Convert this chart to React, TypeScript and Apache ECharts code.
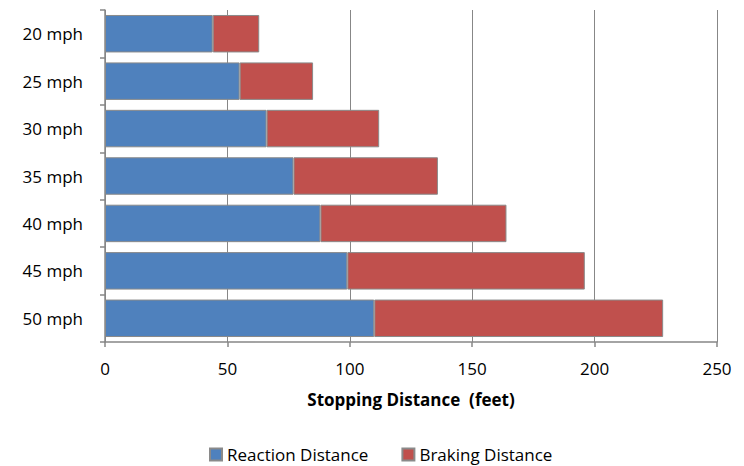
import React, { useEffect, useRef } from "react";
import * as echarts from "echarts";

const categories = ["20 mph", "25 mph", "30 mph", "35 mph", "40 mph", "45 mph", "50 mph"];
const reactionDistance = [44, 55, 66, 77, 88, 99, 110];
const brakingDistance = [19, 30, 46, 59, 76, 97, 118];
const xTicks = { min: 0, max: 250, interval: 50 };

const FONT = "'Open Sans', Lato, sans-serif";
const GRAY = "#878787";
const FS = 17;

export default function App() {
  const ref = useRef<HTMLDivElement>(null);
  useEffect(() => {
    document.body.style.margin = "0";
    if (!ref.current) return;
    const chart = echarts.init(ref.current, undefined, { renderer: "svg" });
    chart.setOption({
      animation: false,
      backgroundColor: "#ffffff",
      textStyle: { fontFamily: FONT },
      grid: { left: 105, right: 27, top: 10, bottom: 124, containLabel: false },
      legend: {
        left: 209,
        top: 446,
        padding: 0,
        itemWidth: 12,
        itemHeight: 12,
        itemGap: 33,
        icon: "rect",
        textStyle: { fontFamily: FONT, fontSize: FS, lineHeight: 17, color: "#000", padding: [0, 0, 0, 0] },
        data: ["Reaction Distance", "Braking Distance"],
      },
      xAxis: {
        type: "value",
        min: xTicks.min,
        max: xTicks.max,
        interval: xTicks.interval,
        name: "Stopping Distance  (feet)",
        nameLocation: "middle",
        nameGap: 49,
        nameTextStyle: { fontFamily: FONT, fontSize: FS, fontWeight: "bold", color: "#000" },
        axisLine: { show: true, lineStyle: { color: GRAY, width: 1.5 } },
        axisTick: { show: true, length: 5, lineStyle: { color: GRAY, width: 1.5 } },
        axisLabel: { fontFamily: FONT, fontSize: FS, color: "#000", margin: 18 },
        splitLine: { show: true, lineStyle: { color: GRAY, width: 1 } },
      },
      yAxis: {
        type: "category",
        inverse: true,
        data: categories,
        axisLine: { show: true, lineStyle: { color: GRAY, width: 1.5 } },
        axisTick: { show: true, length: 5, alignWithLabel: false, lineStyle: { color: GRAY, width: 1.5 } },
        axisLabel: { fontFamily: FONT, fontSize: FS, color: "#000", margin: 22 },
        splitLine: { show: false },
      },
      series: [
        {
          name: "Reaction Distance",
          type: "bar",
          stack: "total",
          data: reactionDistance,
          barCategoryGap: "21%",
          itemStyle: { color: "#4F81BD", borderColor: "#8a8a8a", borderWidth: 1 },
        },
        {
          name: "Braking Distance",
          type: "bar",
          stack: "total",
          data: brakingDistance,
          barCategoryGap: "21%",
          itemStyle: { color: "#C0504D", borderColor: "#8a8a8a", borderWidth: 1 },
        },
      ],
    });
    return () => chart.dispose();
  }, []);
  return <div ref={ref} style={{ width: 744, height: 466 }} />;
}
